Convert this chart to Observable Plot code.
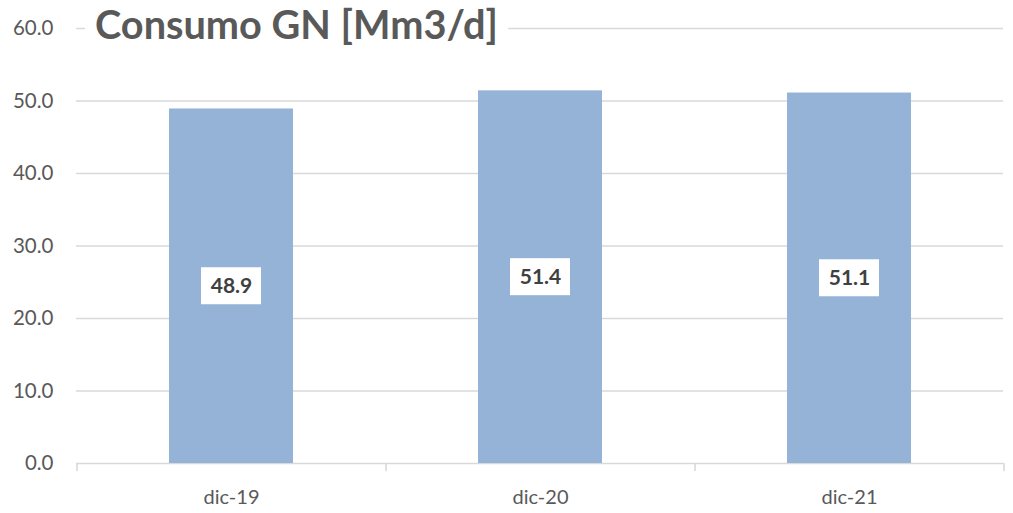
<!DOCTYPE html>
<html><head><meta charset="utf-8">
<script src="https://cdn.jsdelivr.net/npm/d3@7"></script>
<script src="https://cdn.jsdelivr.net/npm/@observablehq/plot@0.6"></script>
<style>
body{margin:0;background:#fff;}
#wrap{position:relative;width:1013px;height:513px;font-family:Lato,sans-serif;}
#title{position:absolute;z-index:2;left:85px;top:4px;padding:0 10px;background:#fff;font-weight:bold;font-size:39.7px;color:#595959;line-height:40px;white-space:nowrap;}
</style></head><body><div id="wrap"><div id="title"></div></div>
<script>
const categories = ["dic-19", "dic-20", "dic-21"];
const values = [48.9, 51.4, 51.1];
const yTicks = [0, 10, 20, 30, 40, 50, 60];
const title = "Consumo GN [Mm3/d]";

document.getElementById("title").textContent = title;
const data = categories.map((c, i) => ({cat: c, value: values[i]}));
const W = 1013, ML = 76, MR = 10;
const half = (W - ML - MR) / categories.length / 2;

const chart = Plot.plot({
  width: W, height: 513,
  marginLeft: ML, marginRight: MR, marginTop: 28, marginBottom: 50,
  style: {fontFamily: "Lato, sans-serif", background: "#fff", overflow: "visible"},
  x: {domain: categories, paddingInner: 0.6, paddingOuter: 0.3},
  y: {domain: [0, 60]},
  marks: [
    Plot.gridY(yTicks.slice(1), {stroke: "#d9d9d9", strokeOpacity: 1, strokeWidth: 1.3}),
    Plot.ruleY([0], {stroke: "#d9d9d9", strokeWidth: 1.6}),
    Plot.axisY(yTicks, {tickSize: 0, tickPadding: 23, tickFormat: d3.format(".1f"), fontSize: 20.5, fill: "#595959", label: null}),
    Plot.axisX({tickSize: 0, tickPadding: 26, fontSize: 20, fill: "#595959", label: null}),
    Plot.axisX({tickSize: 8, dx: -half, tickFormat: () => "", stroke: "#d9d9d9", strokeWidth: 1.6, label: null}),
    Plot.axisX([categories[categories.length - 1]], {tickSize: 8, dx: half, tickFormat: () => "", stroke: "#d9d9d9", strokeWidth: 1.6, label: null}),
    Plot.barY(data, {x: "cat", y: "value", fill: "#95b3d7"}),
    Plot.barY(data, {x: "cat", y1: d => d.value / 2, y2: d => d.value / 2, insetLeft: 32, insetRight: 32, insetTop: -18.5, insetBottom: -18.5, fill: "#fff"}),
    Plot.text(data, {x: "cat", y: d => d.value / 2, text: d => d.value.toFixed(1), fontWeight: "bold", fontSize: 21, fill: "#404040"})
  ]
});
document.getElementById("wrap").appendChild(chart);
</script>
</body></html>
